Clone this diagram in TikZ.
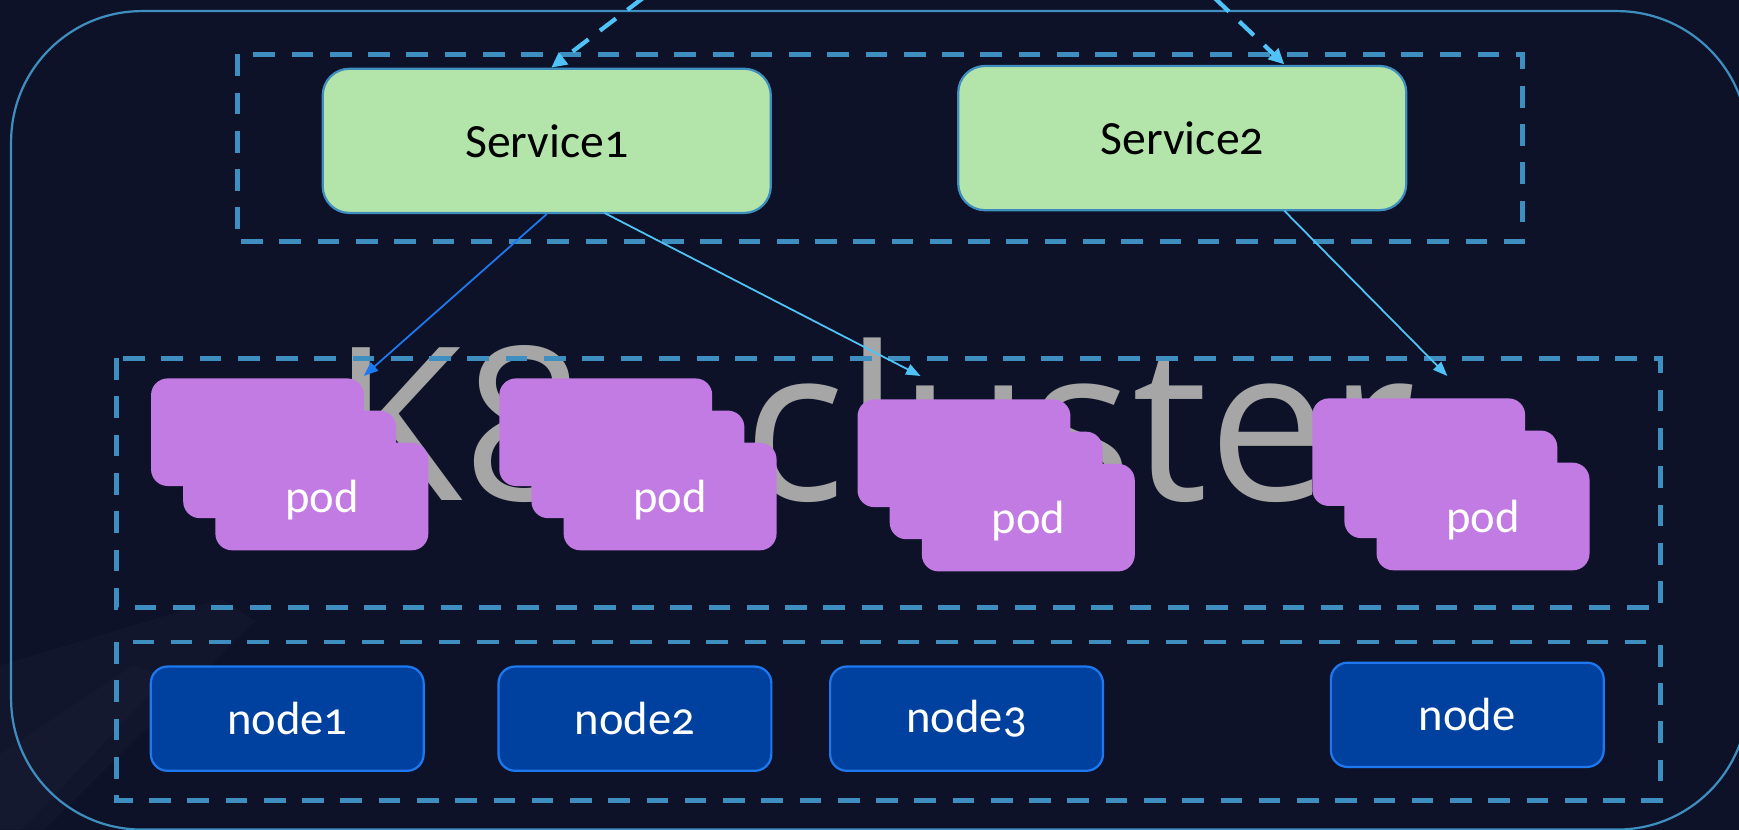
\documentclass[tikz,border=0pt]{standalone}
\usepackage{fontspec}
\setmainfont{Carlito}[Numbers=OldStyle]
\newfontfamily\bigfont{Open Sans}
\usetikzlibrary{arrows.meta,calc}
\definecolor{bg}{RGB}{14,18,40}
\definecolor{boxblue}{RGB}{62,143,192}
\definecolor{svcgreen}{RGB}{179,229,170}
\definecolor{svcborder}{RGB}{62,143,192}
\definecolor{ndfill}{RGB}{0,65,160}
\definecolor{ndborder}{RGB}{30,120,240}
\definecolor{podfill}{RGB}{194,123,227}
\definecolor{skyblue}{RGB}{79,195,247}
\definecolor{brightblue}{RGB}{30,120,240}
\definecolor{bigtextgray}{RGB}{166,166,166}
\tikzset{
  dbox/.style={draw=boxblue, line width=4.2pt, dash pattern=on 19.5pt off 15pt},
  svc/.style={draw=svcborder, line width=2pt, fill=svcgreen, rounded corners=24pt,
    minimum width=404pt, minimum height=130pt, inner sep=0pt,
    font=\fontsize{43}{43}\selectfont, text=black},
  nd/.style={draw=ndborder, line width=2pt, fill=ndfill, rounded corners=15pt,
    minimum width=246pt, minimum height=94pt, inner sep=0pt,
    font=\fontsize{42}{42}\selectfont, text=white},
  podbox/.style={fill=podfill, rounded corners=15pt,
    minimum width=192pt, minimum height=97pt, inner sep=0pt, anchor=north west},
  podtxt/.style={text=white, font=\fontsize{42}{42}\selectfont, anchor=base, inner sep=0pt},
  arr/.style={line width=1.6pt, -{Triangle[length=13pt,width=10pt]}},
  darr/.style={line width=3.8pt, dash pattern=on 18pt off 13pt, draw=skyblue,
    -{Triangle[length=14pt,width=13pt]}},
  bigtext/.style={text=bigtextgray, font=\bigfont\fontsize{193}{193}\selectfont,
    inner sep=0pt, anchor=base west}
}
\begin{document}
\begin{tikzpicture}[x=1pt,y=-1pt]
\useasboundingbox (0,0) rectangle (1568,748);
\clip (0,0) rectangle (1568,748);
\fill[bg] (0,0) rectangle (1568,748);
% subtle light streak bottom-left
\fill[white,opacity=0.018] (0,600) -- (0,748) -- (40,748) -- (230,560) -- (200,540) -- cycle;
\fill[white,opacity=0.015] (0,680) -- (0,748) -- (20,748) -- (150,610) -- (120,600) -- cycle;
% outer rounded frame
\draw[boxblue, line width=2pt, rounded corners=118pt] (10,10) rectangle (1576,748);
% big title
\node[bigtext] (title) at (299,451) {K8s cluster};
% dashed group boxes
\draw[dbox] (214,49) rectangle (1373,218);
\draw[dbox] (105,323) rectangle (1497,548);
\draw[dbox] (105,579) rectangle (1497,722);
% services
\node[svc] (s1) at (493,127) {Service1};
\node[svc] (s2) at (1066,124.5) {Service2};
% pods
\foreach \n/\x/\y in {1/136/341, 2/450/341, 3/773/360, 4/1183/359} {
  \node[podbox] (p\n a) at (\x,\y) {};
  \node[podbox] (p\n b) at (\x+29,\y+29) {};
  \node[podbox] (p\n c) at (\x+58,\y+58) {};
  \node[podtxt] (p\n t) at ($(p\n c.center)+(0,14.5)$) {pod};
}
% nodes
\node[nd] (n1) at (259,648) {node1};
\node[nd] (n2) at (572.5,648) {node2};
\node[nd] (n3) at (871.5,648) {node3};
\node[nd] (n4) at (1323,644.5) {node};
% connectors
\coordinate (t1) at (328,339);
\coordinate (s1b) at (545,192);
\coordinate (t2) at (830,339);
\coordinate (s2b) at (1158,190);
\coordinate (t3) at (1305,339);
\coordinate (d1) at (580,-2);
\coordinate (d1t) at (497,61);
\coordinate (d2) at (1095,-2);
\coordinate (d2t) at (1158,58);
\draw[arr, draw=brightblue] (s1.south) -- (t1);
\draw[arr, draw=skyblue] (s1b) -- (t2);
\draw[arr, draw=skyblue] (s2b) -- (t3);
\draw[darr] (d1) -- (d1t);
\draw[darr] (d2) -- (d2t);
\end{tikzpicture}
\end{document}
